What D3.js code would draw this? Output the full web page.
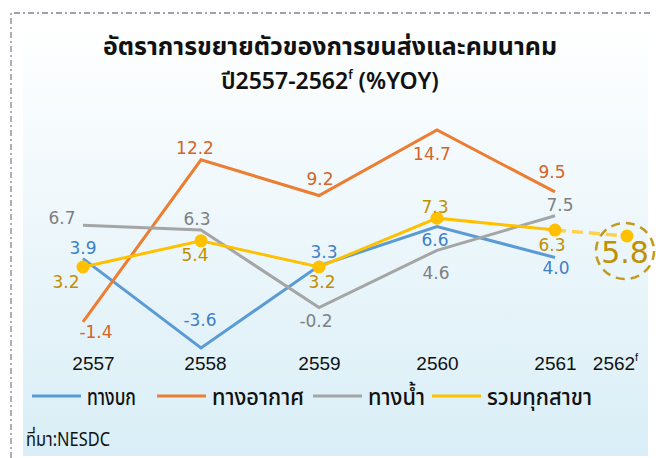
<!DOCTYPE html>
<html>
<head>
<meta charset="utf-8">
<script src="https://cdn.jsdelivr.net/npm/d3@7"></script>
<style>
  body { margin: 0; background: #ffffff; }
  svg text { font-family: "Noto Sans Thai", "Noto Sans", "DejaVu Sans", sans-serif; }
  .val { font-family: "DejaVu Sans", Verdana, sans-serif; font-size: 17px; }
  .tick_lbl { font-family: "Liberation Sans", Arial, sans-serif; font-size: 19px; fill: #111; }
</style>
</head>
<body>
<div id="chart"></div>
<script>
// categories
years = [2557, 2558, 2559, 2560, 2561, 2562];
yearLabels = ["2557", "2558", "2559", "2560", "2561", "2562"];
// series values (%YOY)
land  = [3.9, -3.6, 3.3, 6.6, 4.0];
air   = [-1.4, 12.2, 9.2, 14.7, 9.5];
water = [6.7, 6.3, -0.2, 4.6, 7.5];
total = [3.2, 5.4, 3.2, 7.3, 6.3, 5.8];
seriesNames = ["ทางบก", "ทางอากาศ", "ทางน้ำ", "รวมทุกสาขา"];

// label placement (dx, dy) per point
landOff  = [[0,-11],[-1,-28],[5,-14],[-2,14],[1,11]];
airOff   = [[13,10],[-6,-12],[1,-17],[-5,24],[-3,-20]];
waterOff = [[-21,-7],[-4,-11],[-3,14],[-1,23],[5,-11]];
totalOff = [[-17,15],[-6,14],[3,15],[-2,-11],[-3,15]];

var W = 656, H = 458;
var svg = d3.select("#chart").append("svg").attr("width", W).attr("height", H);

var defs = svg.append("defs");
var grad = defs.append("linearGradient").attr("id", "bg").attr("x1", 0).attr("y1", 0).attr("x2", 0).attr("y2", 1);
grad.append("stop").attr("offset", "0%").attr("stop-color", "#ffffff");
grad.append("stop").attr("offset", "100%").attr("stop-color", "#d9eef7");

// panel
svg.append("rect").attr("x", 23).attr("y", 22).attr("width", 625).attr("height", 434).style("fill", "url(#bg)");

// dash-dot frame
svg.append("path")
    .attr("d", "M11,458 L11,13 L652,13")
    .style("fill", "none").style("stroke", "#7d8491").style("stroke-width", 1.3)
    .style("stroke-dasharray", "6,3,2,3");

// title
svg.append("text").attr("x", 330).attr("y", 55).attr("text-anchor", "middle")
    .attr("textLength", 454).attr("lengthAdjust", "spacingAndGlyphs")
    .style("font-weight", "bold").style("font-size", "24px").style("fill", "#111")
    .text("อัตราการขยายตัวของการขนส่งและคมนาคม");
var t2 = svg.append("text").attr("x", 330).attr("y", 89).attr("text-anchor", "middle")
    .style("font-weight", "600").style("font-size", "23px").style("fill", "#111");
t2.append("tspan").text("ปี2557-2562");
t2.append("tspan").attr("dy", -10).style("font-size", "12px").text("f");
t2.append("tspan").attr("dy", 10).text(" (%YOY)");

// scales
var x = d3.scaleLinear().domain([2557, 2561, 2562]).range([83, 555, 627]);
var y = d3.scaleLinear().domain([-3.6, 14.7]).range([348, 130]);

// x axis labels
var xAxis = d3.axisBottom(x).tickValues(years).tickSize(0).tickFormat(function(d, i){ return yearLabels[i]; });
var gx = svg.append("g").attr("transform", "translate(0,352)").call(xAxis);
gx.select(".domain").remove();
gx.selectAll("text").attr("class", "tick_lbl").attr("dy", 0).attr("y", 18).attr("dx", function(d){ return d == 2557 ? 10 : d == 2558 ? 4 : d == 2562 ? -12 : 0; });
gx.selectAll(".tick").filter(function(d){ return d == 2562; }).select("text")
    .append("tspan").attr("dy", -9).style("font-size", "11px").text("f");

var series = [
    {name: seriesNames[0], values: land,  off: landOff,  line: "#5b9bd5", text: "#3f7fc4", lw: 49},
    {name: seriesNames[1], values: air,   off: airOff,   line: "#ed7d31", text: "#d3642a", lw: 92},
    {name: seriesNames[2], values: water, off: waterOff, line: "#a5a5a5", text: "#7f7f7f", lw: 57},
    {name: seriesNames[3], values: total, off: totalOff, line: "#ffc000", text: "#bf9000", lw: 105}
];

var line = d3.line()
    .x(function(d){ return x(d.year); })
    .y(function(d){ return y(d.v); });

series.forEach(function(s, si){
    var pts = s.values.map(function(v, i){ return {year: years[i], v: v}; });
    var solid = si == 3 ? pts.slice(0, 5) : pts;
    if (si == 3) {
        svg.append("path").datum(pts.slice(4))
            .attr("d", line)
            .style("fill", "none").style("stroke", "#ffd24d").style("stroke-width", 3.5)
            .style("stroke-dasharray", "11,6");
    }
    svg.append("path").datum(solid)
        .attr("d", line)
        .style("fill", "none").style("stroke", s.line).style("stroke-width", 3)
        .style("stroke-linejoin", "miter");
    s.pts = pts;
});

// total dots
svg.selectAll(".dot").data(series[3].pts).enter().append("circle")
    .attr("class", "dot")
    .attr("cx", function(d){ return x(d.year); })
    .attr("cy", function(d){ return y(d.v); })
    .attr("r", 6.5)
    .style("fill", "#ffc000");

// value labels
series.forEach(function(s){
    s.off.forEach(function(o, i){
        var d = s.pts[i];
        svg.append("text").attr("class", "val")
            .attr("x", x(d.year) + o[0])
            .attr("y", y(d.v) + o[1])
            .attr("text-anchor", "middle")
            .attr("dominant-baseline", "central")
            .style("fill", s.text)
            .text(d.v.toFixed(1));
    });
});

// forecast highlight
var fc = series[3].pts[5];
svg.append("ellipse").attr("cx", x(fc.year) - 2).attr("cy", y(fc.v) + 15).attr("rx", 29).attr("ry", 28)
    .style("fill", "none").style("stroke", "#c29a1c").style("stroke-width", 2.5).style("stroke-dasharray", "9,6");
svg.append("text").attr("class", "val")
    .attr("x", x(fc.year) - 2).attr("y", y(fc.v) + 16)
    .attr("text-anchor", "middle").attr("dominant-baseline", "central")
    .style("font-size", "30px").style("fill", "#bf9000")
    .text(fc.v.toFixed(1));

// legend
var legX = [32, 157, 313, 432];
var leg = svg.append("g").attr("transform", "translate(0,396)");
series.forEach(function(s, i){
    leg.append("line").attr("x1", legX[i]).attr("x2", legX[i] + 49).attr("y1", 0).attr("y2", 0)
        .style("stroke", s.line).style("stroke-width", 3);
    leg.append("text").attr("x", legX[i] + 55).attr("y", 9)
        .attr("textLength", s.lw).attr("lengthAdjust", "spacingAndGlyphs")
        .style("font-size", "23px").style("font-weight", "500").style("fill", "#111")
        .text(s.name);
});

// source
svg.append("text").attr("x", 26).attr("y", 446)
    .attr("textLength", 84).attr("lengthAdjust", "spacingAndGlyphs")
    .style("font-size", "19px").style("fill", "#111").text("ที่มา:NESDC");
</script>
</body>
</html>
